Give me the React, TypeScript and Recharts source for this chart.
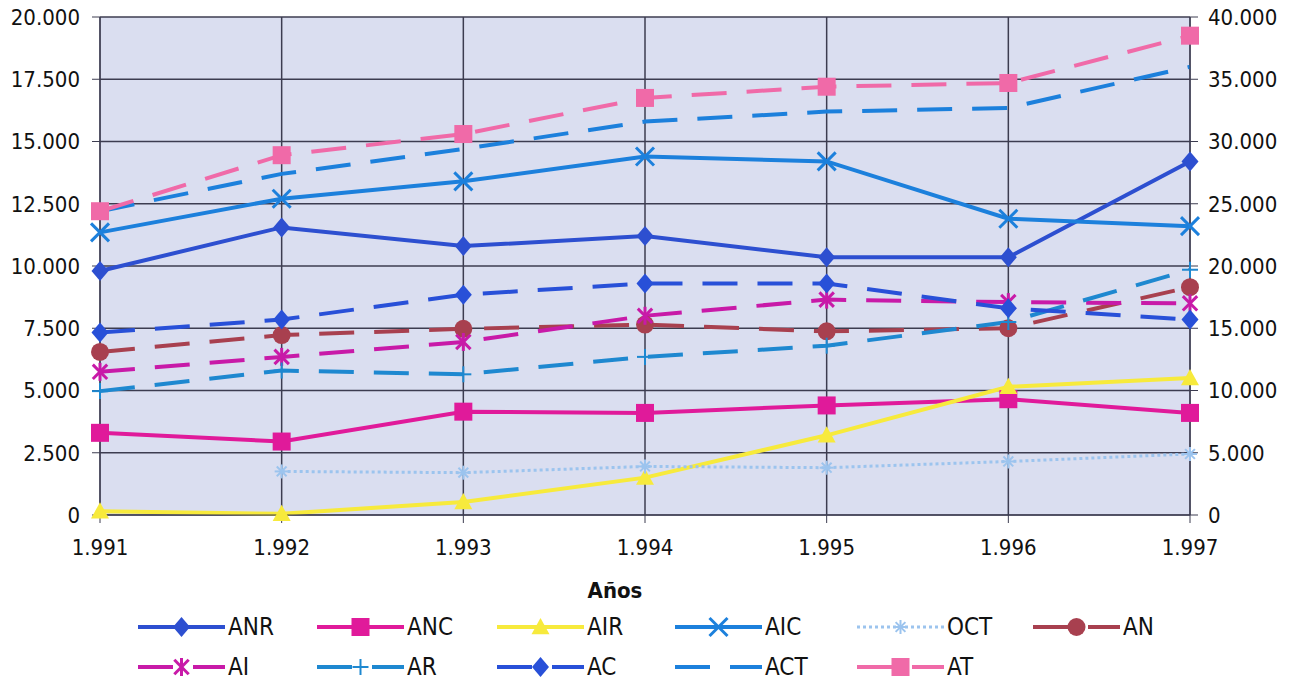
import React from 'react';
import { LineChart, Line, XAxis, YAxis, CartesianGrid } from 'recharts';

// años (categorías)
const years = ['1.991', '1.992', '1.993', '1.994', '1.995', '1.996', '1.997'];

// eje izquierdo (líneas continuas)
const ANR = [9800, 11550, 10800, 11200, 10350, 10350, 14200];
const ANC = [3300, 2950, 4150, 4100, 4400, 4650, 4100];
const AIR = [150, 50, 520, 1500, 3200, 5150, 5500];
const AIC = [11350, 12700, 13400, 14400, 14200, 11900, 11600];
const OCT = [null, 1750, 1700, 1950, 1900, 2150, 2450];

// eje derecho (líneas discontinuas)
const AN = [13100, 14450, 14950, 15300, 14750, 15000, 18300];
const AI = [11500, 12700, 13900, 16000, 17300, 17100, 17000];
const AR = [9950, 11600, 11300, 12700, 13600, 15500, 19700];
const AC = [14650, 15700, 17700, 18600, 18600, 16600, 15700];
const ACT = [24400, 27400, 29400, 31600, 32400, 32700, 36000];
const AT = [24400, 28900, 30600, 33500, 34400, 34700, 38500];

const leftTicks = [0, 2500, 5000, 7500, 10000, 12500, 15000, 17500, 20000];
const rightTicks = [0, 5000, 10000, 15000, 20000, 25000, 30000, 35000, 40000];

type MarkerType = 'diamond' | 'square' | 'triangle' | 'x' | 'circle' | 'asterisk' | 'plus' | 'star' | 'none';

interface SeriesDef {
  key: string;
  values: (number | null)[];
  axis: 'left' | 'right';
  color: string;
  markerColor?: string;
  dash?: string;
  width: number;
  marker: MarkerType;
  size: number;
}

const series: SeriesDef[] = [
  { key: 'ANR', values: ANR, axis: 'left', color: '#2d4fd0', width: 4, marker: 'diamond', size: 10 },
  { key: 'ANC', values: ANC, axis: 'left', color: '#e01a9a', width: 4, marker: 'square', size: 9 },
  { key: 'AIR', values: AIR, axis: 'left', color: '#f7ea3c', width: 4, marker: 'triangle', size: 9 },
  { key: 'AIC', values: AIC, axis: 'left', color: '#1c80dc', width: 4, marker: 'x', size: 9 },
  { key: 'OCT', values: OCT, axis: 'left', color: '#9cc4ee', dash: '3 3', width: 3, marker: 'star', size: 7 },
  { key: 'AN', values: AN, axis: 'right', color: '#a8404f', dash: '35 20', width: 4, marker: 'circle', size: 9 },
  { key: 'AI', values: AI, axis: 'right', color: '#c81aa8', dash: '35 20', width: 4, marker: 'asterisk', size: 9 },
  { key: 'AR', values: AR, axis: 'right', color: '#1e88d0', dash: '35 20', width: 4, marker: 'plus', size: 8 },
  { key: 'AC', values: AC, axis: 'right', color: '#2850d8', dash: '35 20', width: 4, marker: 'diamond', size: 10 },
  { key: 'ACT', values: ACT, axis: 'right', color: '#1c80dc', dash: '35 20', width: 4, marker: 'none', size: 0 },
  { key: 'AT', values: AT, axis: 'right', color: '#f06aa8', dash: '35 20', width: 4, marker: 'square', size: 9 },
];

const data = years.map((year, i) => {
  const row: Record<string, any> = { year };
  series.forEach((s) => {
    row[s.key] = s.values[i];
  });
  return row;
});

const FONT = "'DejaVu Sans Condensed', 'DejaVu Sans', sans-serif";

const fmt = (v: number) => String(v).replace(/\B(?=(\d{3})+(?!\d))/g, '.');

function Marker({ type, cx, cy, color, size }: { type: MarkerType; cx: number; cy: number; color: string; size: number }) {
  const s = size;
  switch (type) {
    case 'diamond':
      return <polygon points={`${cx},${cy - s} ${cx + s * 0.85},${cy} ${cx},${cy + s} ${cx - s * 0.85},${cy}`} fill={color} />;
    case 'square':
      return <rect x={cx - s} y={cy - s} width={2 * s} height={2 * s} fill={color} />;
    case 'triangle':
      return <polygon points={`${cx},${cy - s} ${cx + s},${cy + s * 0.8} ${cx - s},${cy + s * 0.8}`} fill={color} />;
    case 'circle':
      return <circle cx={cx} cy={cy} r={s} fill={color} />;
    case 'x':
      return (
        <g stroke={color} strokeWidth={3}>
          <line x1={cx - s} y1={cy - s} x2={cx + s} y2={cy + s} />
          <line x1={cx - s} y1={cy + s} x2={cx + s} y2={cy - s} />
        </g>
      );
    case 'asterisk':
      return (
        <g stroke={color} strokeWidth={3}>
          <line x1={cx} y1={cy - s} x2={cx} y2={cy + s} />
          <line x1={cx - s * 0.8} y1={cy - s * 0.8} x2={cx + s * 0.8} y2={cy + s * 0.8} />
          <line x1={cx - s * 0.8} y1={cy + s * 0.8} x2={cx + s * 0.8} y2={cy - s * 0.8} />
        </g>
      );
    case 'plus':
      return (
        <g stroke={color} strokeWidth={2}>
          <line x1={cx} y1={cy - s} x2={cx} y2={cy + s} />
          <line x1={cx - s} y1={cy} x2={cx + s} y2={cy} />
        </g>
      );
    case 'star':
      return (
        <g stroke={color} strokeWidth={2}>
          <line x1={cx} y1={cy - s} x2={cx} y2={cy + s} />
          <line x1={cx - s} y1={cy} x2={cx + s} y2={cy} />
          <line x1={cx - s * 0.7} y1={cy - s * 0.7} x2={cx + s * 0.7} y2={cy + s * 0.7} />
          <line x1={cx - s * 0.7} y1={cy + s * 0.7} x2={cx + s * 0.7} y2={cy - s * 0.7} />
        </g>
      );
    default:
      return null;
  }
}

const legendCols = [138, 317, 497, 675, 857, 1033];
const legendRows = [627, 667];

function LegendBlock() {
  return (
    <>
      {series.map((s, i) => {
        const row = Math.floor(i / 6);
        const col = i % 6;
        return (
          <div
            key={s.key}
            style={{
              position: 'absolute',
              left: legendCols[col],
              top: legendRows[row] - 14,
              height: 28,
              display: 'flex',
              alignItems: 'center',
            }}
          >
            <svg width={87} height={28}>
              <line x1={0} y1={14} x2={87} y2={14} stroke={s.color} strokeWidth={s.width} strokeDasharray={s.dash} />
              <Marker type={s.marker} cx={43.5} cy={14} color={s.color} size={s.size} />
            </svg>
            <span style={{ marginLeft: 3, fontFamily: FONT, fontSize: 24, color: '#111', lineHeight: '28px' }}>{s.key}</span>
          </div>
        );
      })}
    </>
  );
}

export default function App() {
  return (
    <div style={{ position: 'absolute', left: 0, top: 0, width: 1296, height: 684, background: '#fff' }}>
      <LineChart width={1296} height={684} data={data} margin={{ top: 17, right: 0, left: 0, bottom: 0 }}>
        <CartesianGrid stroke="#3c3c50" strokeWidth={1.5} fill="#dadef0" fillOpacity={1} yAxisId="left" />
        <XAxis
          dataKey="year"
          height={169}
          tickSize={8}
          tickMargin={16}
          stroke="#3c3c50"
          tick={{ fill: '#111', fontSize: 22, fontFamily: FONT }}
          interval={0}
          label={({ viewBox }: any) => (
            <text
              x={viewBox.x + viewBox.width / 2 - 30}
              y={viewBox.y + 83}
              textAnchor="middle"
              fontFamily={FONT}
              fontWeight="bold"
              fontSize={22}
              fill="#111"
            >
              Años
            </text>
          )}
        />
        <YAxis
          yAxisId="left"
          width={100}
          domain={[0, 20000]}
          ticks={leftTicks}
          tickFormatter={fmt}
          tickSize={8}
          tickMargin={12}
          stroke="#3c3c50"
          tick={{ fill: '#111', fontSize: 22, fontFamily: FONT }}
          interval={0}
        />
        <YAxis
          yAxisId="right"
          orientation="right"
          width={106}
          domain={[0, 40000]}
          ticks={rightTicks}
          tickFormatter={fmt}
          tickSize={8}
          tickMargin={10}
          stroke="#3c3c50"
          tick={{ fill: '#111', fontSize: 22, fontFamily: FONT }}
          interval={0}
        />
        {series.map((s) => (
          <Line
            key={s.key}
            yAxisId={s.axis}
            type="linear"
            dataKey={s.key}
            stroke={s.color}
            strokeWidth={s.width}
            strokeDasharray={s.dash}
            isAnimationActive={false}
            dot={
              s.marker === 'none'
                ? false
                : (p: any) =>
                    p.cx == null || p.cy == null || p.value == null ? (
                      <g key={`${s.key}-${p.index}`} />
                    ) : (
                      <g key={`${s.key}-${p.index}`}>
                        <Marker type={s.marker} cx={p.cx} cy={p.cy} color={s.color} size={s.size} />
                      </g>
                    )
            }
            activeDot={false}
          />
        ))}
      </LineChart>
      <LegendBlock />
    </div>
  );
}
